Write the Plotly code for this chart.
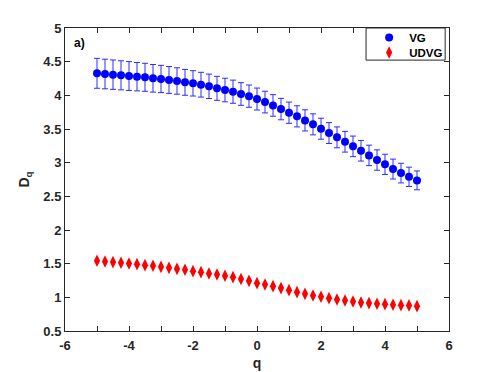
import numpy as np
import plotly.graph_objects as go

# q from -5 to 5, step 0.25 (41 points)
q = [-5 + 0.25 * i for i in range(41)]

vg = [4.327, 4.317, 4.307, 4.297, 4.287, 4.277, 4.268, 4.253, 4.243, 4.228,
      4.213, 4.193, 4.178, 4.158, 4.134, 4.104, 4.079, 4.054, 4.020, 3.988,
      3.945, 3.900, 3.850, 3.796, 3.742, 3.688, 3.628, 3.569, 3.504, 3.440,
      3.376, 3.311, 3.242, 3.177, 3.108, 3.039, 2.975, 2.905, 2.845, 2.790,
      2.737]

vg_err = [0.222, 0.220, 0.218, 0.216, 0.214, 0.211, 0.208, 0.205, 0.202, 0.199,
          0.196, 0.192, 0.188, 0.184, 0.181, 0.178, 0.175, 0.172, 0.168, 0.165,
          0.163, 0.161, 0.160, 0.159, 0.158, 0.157, 0.157, 0.156, 0.156, 0.155,
          0.155, 0.154, 0.153, 0.153, 0.152, 0.151, 0.150, 0.148, 0.146, 0.143,
          0.140]

udvg = [1.543, 1.533, 1.523, 1.513, 1.503, 1.493, 1.478, 1.468, 1.453, 1.438,
        1.423, 1.409, 1.389, 1.374, 1.354, 1.340, 1.320, 1.300, 1.272, 1.245,
        1.211, 1.190, 1.166, 1.137, 1.107, 1.077, 1.052, 1.028, 1.008, 0.988,
        0.968, 0.954, 0.939, 0.924, 0.914, 0.904, 0.899, 0.889, 0.884, 0.880,
        0.869]

xticks = [-6, -4, -2, 0, 2, 4, 6]
yticks = [0.5, 1, 1.5, 2, 2.5, 3, 3.5, 4, 4.5, 5]

font = "Liberation Sans, Arial, Helvetica, sans-serif"
axcol = "#262626"

fig = go.Figure()
fig.add_trace(go.Scatter(
    x=q, y=vg, mode="markers", name="<b>VG</b>", legend="legend",
    marker=dict(symbol="circle", size=8, color="#0000ff"),
    error_y=dict(type="data", array=vg_err, visible=True,
                 color="rgb(45,45,255)", thickness=1, width=3),
))
fig.add_trace(go.Scatter(
    x=q, y=udvg, mode="markers", name="<b>UDVG</b>", legend="legend2",
    marker=dict(symbol="diamond-tall", size=9, color="#ff0000"),
))

axis_common = dict(
    showgrid=False, zeroline=False, showline=True, linecolor=axcol, linewidth=1,
    mirror="allticks", ticks="inside", ticklen=5, tickcolor=axcol, automargin=False,
    tickfont=dict(family=font, size=13, color=axcol),
)

fig.update_xaxes(
    range=[-6, 6],
    tickvals=xticks,
    ticktext=["<b>%g</b>" % v for v in xticks],
    ticklabelstandoff=2,
    minor=dict(dtick=1, tick0=-6, ticks="inside", ticklen=5, tickcolor=axcol),
    title=dict(text="<b>q</b>", font=dict(family=font, size=14, color=axcol), standoff=6),
    **axis_common,
)
fig.update_yaxes(
    range=[0.5, 5],
    tickvals=yticks,
    ticktext=["<b>%g</b>" % v for v in yticks],
    title=dict(text="<b>D<sub>q</sub></b>", font=dict(family=font, size=14, color=axcol), standoff=10),
    **axis_common,
)

fig.add_annotation(
    x=0.018, y=0.952, xref="paper", yref="paper", xanchor="left", yanchor="middle",
    text="<b>a)</b>", showarrow=False, font=dict(family=font, size=12, color="black"),
)

# legend frame (the two legends below sit inside it, tighter than one legend allows)
fig.add_shape(type="rect", xref="paper", yref="paper", x0=0.784, x1=0.990, y0=0.894, y1=1.0,
              line=dict(color=axcol, width=1), fillcolor="white", layer="above")

leg_common = dict(
    xanchor="left", yanchor="middle", bgcolor="rgba(0,0,0,0)", borderwidth=0,
    font=dict(family=font, size=11.5, color="black"), itemsizing="trace", itemwidth=30,
)

# page body adds ~8px offset, so the figure is a bit smaller than the window
fig.update_layout(
    width=488, height=364,
    margin=dict(l=57, r=47, t=20, b=41),
    paper_bgcolor="white", plot_bgcolor="white",
    showlegend=True,
    legend=dict(x=0.792, y=0.969, **leg_common),
    legend2=dict(x=0.792, y=0.919, **leg_common),
)

fig.write_html("out.html")
